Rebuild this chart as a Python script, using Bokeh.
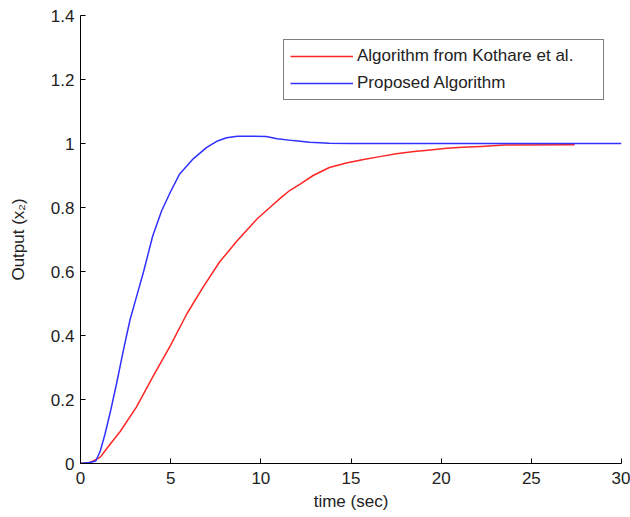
from bokeh.plotting import figure
from bokeh.models import Range1d, FixedTicker
from bokeh.embed import file_html
from bokeh.resources import INLINE

# Data
t_kothare = [0, 0.4, 0.6, 1.1, 1.5, 2.2, 3.1, 4.0, 5.0, 5.9, 6.8, 7.7, 8.7, 9.8, 10.5, 11.1, 11.6,
             12.2, 12.9, 13.8, 14.8, 15.7, 16.6, 17.5, 18.5, 19.4, 20.3, 21.2, 22.2, 23.5, 27.4]
y_kothare = [0, 0.002, 0.005, 0.02, 0.05, 0.10, 0.176, 0.27, 0.37, 0.468, 0.551, 0.629, 0.697, 0.765,
             0.80, 0.83, 0.853, 0.874, 0.90, 0.925, 0.94, 0.95, 0.959, 0.968, 0.975, 0.98, 0.985,
             0.988, 0.991, 0.995, 0.996]

t_proposed = [0, 0.5, 0.85, 1.1, 1.35, 1.65, 2.0, 2.4, 2.75, 3.1, 3.5, 4.0, 4.5, 5.0, 5.5, 6.25, 7.0,
              7.6, 8.1, 8.7, 9.5, 10.3, 10.9, 11.8, 12.7, 13.8, 15, 20, 25, 30]
y_proposed = [0, 0.003, 0.008, 0.04, 0.09, 0.16, 0.25, 0.36, 0.45, 0.52, 0.60, 0.71, 0.79, 0.85, 0.905,
              0.952, 0.988, 1.008, 1.018, 1.023, 1.023, 1.022, 1.015, 1.009, 1.004, 1.001, 1.0, 1.0,
              1.0, 1.0]

x_ticks = [0, 5, 10, 15, 20, 25, 30]
y_ticks = [0, 0.2, 0.4, 0.6, 0.8, 1, 1.2, 1.4]
y_tick_labels = ["0", "0.2", "0.4", "0.6", "0.8", "1", "1.2", "1.4"]
labels = ["Algorithm from Kothare et al.", "Proposed Algorithm"]

FONT = "Liberation Sans"
FS = "17px"
RED = "#ff2626"
BLUE = "#3030ff"

p = figure(width=630, height=517, x_range=Range1d(0, 30), y_range=Range1d(0, 1.4),
           output_backend="svg", toolbar_location=None,
           min_border_left=80, min_border_right=9, min_border_top=15, min_border_bottom=54)
p.outline_line_color = None
p.grid.visible = False
p.background_fill_color = "white"
p.border_fill_color = "white"

p.line(t_kothare, y_kothare, line_color=RED, line_width=1.5, legend_label=labels[0])
p.line(t_proposed, y_proposed, line_color=BLUE, line_width=1.5, legend_label=labels[1])

for ax in (p.xaxis[0], p.yaxis[0]):
    ax.axis_line_color = "black"
    ax.major_tick_line_color = "black"
    ax.major_tick_in = 5
    ax.major_tick_out = 0
    ax.minor_tick_line_color = None
    ax.major_label_text_font = FONT
    ax.major_label_text_font_size = FS
    ax.major_label_text_color = "#222222"
    ax.axis_label_text_font = FONT
    ax.axis_label_text_font_size = FS
    ax.axis_label_text_font_style = "normal"
    ax.axis_label_text_color = "#222222"

p.xaxis[0].ticker = FixedTicker(ticks=x_ticks)
p.yaxis[0].ticker = FixedTicker(ticks=y_ticks)
p.xaxis[0].major_label_overrides = {v: str(v) for v in x_ticks}
p.yaxis[0].major_label_overrides = dict(zip(y_ticks, y_tick_labels))
p.xaxis[0].axis_label = "time (sec)"
p.yaxis[0].axis_label = "Output (x\u2082)"
p.xaxis[0].major_label_standoff = 8
p.xaxis[0].axis_label_standoff = 5
p.yaxis[0].major_label_standoff = 6
p.yaxis[0].axis_label_standoff = 20

legend = p.legend[0]
legend.location = (203, 363)
legend.border_line_color = "black"
legend.border_line_width = 1
legend.background_fill_color = "white"
legend.background_fill_alpha = 1
legend.label_text_font = FONT
legend.label_text_font_size = FS
legend.label_text_color = "#222222"
legend.glyph_width = 63
legend.glyph_height = 20
legend.label_height = 20
legend.label_width = 240
legend.label_standoff = 4
legend.padding = 6
legend.spacing = 7
legend.margin = 0

open("out.html", "w").write(file_html(p, INLINE))
